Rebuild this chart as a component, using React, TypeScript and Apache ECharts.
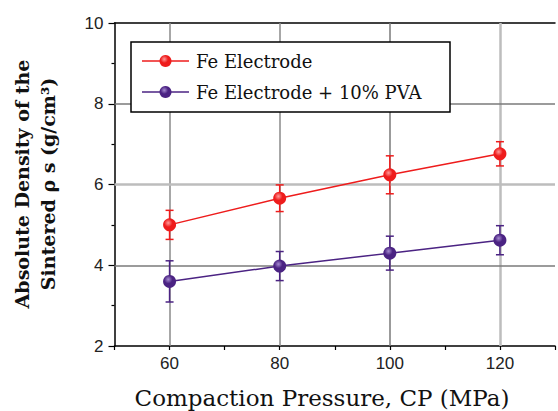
import React, { useEffect, useRef } from "react";
import * as echarts from "echarts";

const pressures = [60, 80, 100, 120];
const feMean = [5.0, 5.66, 6.24, 6.76];
const feErr = [0.36, 0.33, 0.47, 0.3];
const pvaMean = [3.6, 3.98, 4.3, 4.62];
const pvaErr = [0.51, 0.36, 0.42, 0.36];
const xTickLabels = [60, 80, 100, 120];
const seriesNames = ["Fe Electrode", "Fe Electrode + 10% PVA"];
const yTitleLines = ["Absolute Density of the", "Sintered \u03c1 s (g/cm\u00b3)"];
const xTitle = "Compaction Pressure, CP (MPa)";

const RED = "#ee1c1c";
const PURPLE = "#4b2383";
const SANS = "Liberation Sans";

function sphere(base: string, light: string) {
  return new echarts.graphic.RadialGradient(0.4, 0.35, 0.7, [
    { offset: 0, color: light },
    { offset: 0.45, color: base },
    { offset: 1, color: base },
  ]);
}

function errorSeries(name: string, mean: number[], err: number[], color: string) {
  return {
    type: "custom",
    name: name + "-err",
    silent: true,
    z: 3,
    data: pressures.map((p, i) => [p, mean[i] - err[i], mean[i] + err[i]]),
    renderItem: (params: any, api: any) => {
      const x = api.value(0);
      const lo = api.coord([x, api.value(1)]);
      const hi = api.coord([x, api.value(2)]);
      const cap = 4;
      const style = { stroke: color, lineWidth: 1.5, fill: "none" };
      return {
        type: "group",
        children: [
          { type: "line", shape: { x1: lo[0], y1: lo[1], x2: hi[0], y2: hi[1] }, style },
          { type: "line", shape: { x1: lo[0] - cap, y1: lo[1], x2: lo[0] + cap, y2: lo[1] }, style },
          { type: "line", shape: { x1: hi[0] - cap, y1: hi[1], x2: hi[0] + cap, y2: hi[1] }, style },
        ],
      };
    },
  };
}

function legendRow(name: string, color: string, light: string, cy: number) {
  return [
    { type: "line", z: 20, shape: { x1: 142, y1: cy, x2: 189, y2: cy }, style: { stroke: color, lineWidth: 1.5 } },
    { type: "circle", z: 21, shape: { cx: 165.5, cy, r: 6 }, style: { fill: sphere(color, light) } },
    {
      type: "text",
      z: 21,
      x: 196,
      y: cy,
      style: {
        text: name,
        font: "18px 'DejaVu Serif'",
        fill: "#111",
        align: "left",
        verticalAlign: "middle",
      },
    },
  ];
}

export default function App() {
  const ref = useRef<HTMLDivElement>(null);
  useEffect(() => {
    if (!ref.current) return;
    const chart = echarts.init(ref.current, null, { renderer: "svg" });
    const gridLines = [
      { xAxis: 60, lineStyle: { color: "#8a8a8a", width: 1.5, type: "solid" } },
      { xAxis: 80, lineStyle: { color: "#8a8a8a", width: 1.5, type: "solid" } },
      { xAxis: 100, lineStyle: { color: "#7a7a7a", width: 1.5, type: "solid" } },
      { xAxis: 120, lineStyle: { color: "#bdbdbd", width: 2.5, type: "solid" } },
      { yAxis: 4, lineStyle: { color: "#7a7a7a", width: 1.5, type: "solid" } },
      { yAxis: 6, lineStyle: { color: "#bdbdbd", width: 2.5, type: "solid" } },
      { yAxis: 8, lineStyle: { color: "#7a7a7a", width: 1.5, type: "solid" } },
    ];
    chart.setOption({
      animation: false,
      backgroundColor: "#ffffff",
      grid: { left: 114.5, top: 23, right: -3, bottom: 65 },
      xAxis: [
        {
          type: "value",
          min: 50,
          max: 130,
          interval: 10,
          axisLine: { show: true, onZero: false, lineStyle: { color: "#000", width: 1.5 } },
          axisTick: { show: true, inside: false, length: 4, lineStyle: { color: "#000", width: 1.2 } },
          splitLine: { show: false },
          axisLabel: {
            margin: 9,
            fontFamily: SANS,
            fontSize: 17,
            color: "#222",
            formatter: (v: number) => (xTickLabels.includes(v) ? String(v) : ""),
          },
        },
        {
          type: "value",
          position: "top",
          min: 50,
          max: 130,
          interval: 10,
          axisLine: { show: true, lineStyle: { color: "#000", width: 1.5 } },
          axisTick: { show: false },
          axisLabel: { show: false },
          splitLine: { show: false },
        },
      ],
      yAxis: {
        type: "value",
        min: 2,
        max: 10,
        interval: 2,
        axisLine: { show: true, lineStyle: { color: "#000", width: 1.5 } },
        axisTick: { show: true, inside: false, length: 6, lineStyle: { color: "#000", width: 1.2 } },
        minorTick: { show: true, splitNumber: 2, length: 3, lineStyle: { color: "#000", width: 1.2 } },
        splitLine: { show: false },
        axisLabel: { margin: 11, fontFamily: SANS, fontSize: 17, color: "#222" },
      },
      series: [
        {
          name: seriesNames[0],
          type: "line",
          data: pressures.map((p, i) => [p, feMean[i]]),
          symbol: "circle",
          symbolSize: 13,
          z: 4,
          lineStyle: { color: RED, width: 1.5 },
          itemStyle: { color: sphere(RED, "#ff9a9a"), borderWidth: 0 },
          markLine: {
            silent: true,
            symbol: ["none", "none"],
            label: { show: false },
            z: 1,
            data: gridLines,
          },
        },
        {
          name: seriesNames[1],
          type: "line",
          data: pressures.map((p, i) => [p, pvaMean[i]]),
          symbol: "circle",
          symbolSize: 13,
          z: 4,
          lineStyle: { color: PURPLE, width: 1.5 },
          itemStyle: { color: sphere(PURPLE, "#a58ad0"), borderWidth: 0 },
        },
        errorSeries(seriesNames[0], feMean, feErr, RED),
        errorSeries(seriesNames[1], pvaMean, pvaErr, PURPLE),
      ],
      graphic: [
        {
          type: "rect",
          z: 19,
          shape: { x: 131, y: 42, width: 319, height: 70 },
          style: { fill: "#fff", stroke: "#000", lineWidth: 1.5 },
        },
        ...legendRow(seriesNames[0], RED, "#ff9a9a", 61),
        ...legendRow(seriesNames[1], PURPLE, "#a58ad0", 92),
        {
          type: "text",
          x: 22,
          y: 184,
          rotation: Math.PI / 2,
          style: {
            text: yTitleLines[0],
            font: "bold 19px 'DejaVu Serif'",
            fill: "#111",
            align: "center",
            verticalAlign: "middle",
          },
        },
        {
          type: "text",
          x: 48,
          y: 184,
          rotation: Math.PI / 2,
          style: {
            text: yTitleLines[1],
            font: "bold 19px 'DejaVu Serif'",
            fill: "#111",
            align: "center",
            verticalAlign: "middle",
          },
        },
        {
          type: "text",
          x: 322,
          y: 398,
          style: {
            text: xTitle,
            font: "23px 'DejaVu Serif'",
            fill: "#111",
            align: "center",
            verticalAlign: "middle",
          },
        },
      ],
    });
    return () => chart.dispose();
  }, []);
  return <div ref={ref} style={{ width: 558, height: 411, position: "fixed", left: 0, top: 0 }} />;
}
